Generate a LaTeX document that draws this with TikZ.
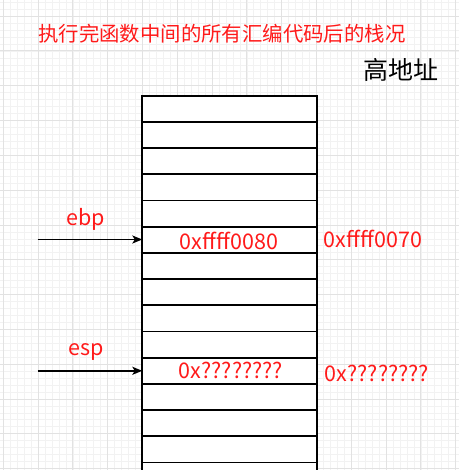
\documentclass[tikz,border=0pt]{standalone}
\usepackage{fontspec}
\setmainfont{Noto Sans CJK SC}
\newfontfamily\cjk{Noto Sans CJK SC}
\usetikzlibrary{arrows.meta}
\definecolor{gridmajor}{HTML}{E2E2E2}
\definecolor{gridminor}{HTML}{F2F2F2}
\definecolor{txtred}{HTML}{FF1A1A}
\tikzset{
  cell/.style={draw=black, line width=1.7pt, fill=white, minimum width=175pt, minimum height=26.2pt, inner sep=0pt, outer sep=0pt},
  redtxt/.style={text=txtred, font=\cjk\fontsize{21.5}{24}\selectfont, inner sep=0pt},
  titletxt/.style={text=txtred, font=\cjk\fontsize{20.4}{24}\selectfont, inner sep=0pt},
  ptr/.style={line width=1.4pt, -{Stealth[length=10pt,width=8pt,inset=2.5pt]}}
}
\begin{document}
\begin{tikzpicture}[x=1pt,y=-1pt]
\useasboundingbox (0,0) rectangle (459,470);
\fill[white] (0,0) rectangle (459,470);
% minor grid
\foreach \i in {0,...,66} {
  \draw[gridminor, line width=0.8pt] ({3.3+6.96*\i},0) -- ({3.3+6.96*\i},470);
  \draw[gridminor, line width=0.8pt] (0,{2.28+6.96*\i}) -- (459,{2.28+6.96*\i});
}
% major grid
\foreach \i in {0,...,13} {
  \draw[gridmajor, line width=1pt] ({3.3+34.8*\i},0) -- ({3.3+34.8*\i},470);
  \draw[gridmajor, line width=1pt] (0,{16.2+34.8*\i}) -- (459,{16.2+34.8*\i});
}
% title
\node[titletxt, anchor=west] (title) at (38,33.5) {执行完函数中间的所有汇编代码后的栈况};
\node[font=\cjk\fontsize{25}{28}\selectfont, anchor=east, inner sep=0pt] (high) at (439,70) {高地址};
% stack cells
\foreach \k in {0,...,14} {
  \node[cell] (r\k) at (229.8,{95.7+26.2*\k+13.1}) {};
}
% contents
\node[redtxt] (v1) at (229,241) {0xffff0080};
\node[redtxt] (a1) at (373,239) {0xffff0070};
\node[redtxt] (v2) at (231,370) {0x????????};
\node[redtxt] (a2) at (377,373) {0x????????};
% pointers
\node[redtxt] (ebp) at (86,219) {ebp};
\node[redtxt] (esp) at (86,352) {esp};
\coordinate (ebps) at (37.5,239.5);
\coordinate (esps) at (37.5,370.8);
\draw[ptr] (ebps) -- (ebps -| r5.west);
\draw[ptr] (esps) -- (esps -| r10.west);
\end{tikzpicture}
\end{document}
